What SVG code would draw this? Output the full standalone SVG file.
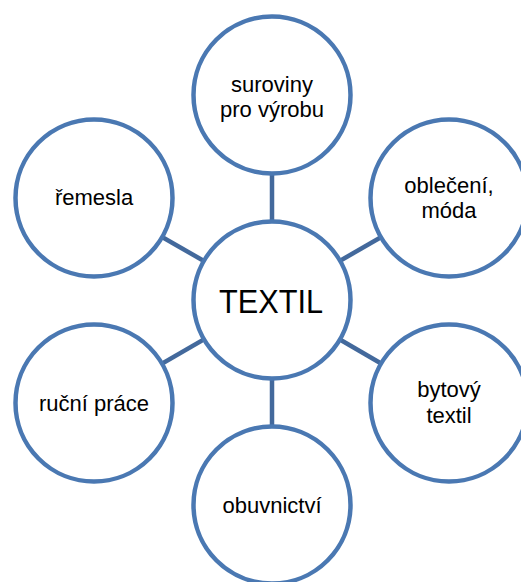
<svg xmlns="http://www.w3.org/2000/svg" width="521" height="582" viewBox="0 0 521 582">
<style>
.node circle{fill:#fff;stroke:#4A78B2;stroke-width:4.5}
.conn line{stroke:#43699C;stroke-width:4.5}
text{font-family:"Liberation Sans",Arial,sans-serif;font-size:22px;fill:#000;text-anchor:middle}
.big{font-size:33px}
</style>
<rect width="521" height="582" fill="#fff"/>
<g id="connectors" class="conn">
<line x1="272" y1="300" x2="272" y2="95"/>
<line x1="272" y1="300" x2="449" y2="198"/>
<line x1="272" y1="300" x2="449" y2="403"/>
<line x1="272" y1="300" x2="272" y2="505"/>
<line x1="272" y1="300" x2="94" y2="403"/>
<line x1="272" y1="300" x2="94" y2="198"/>
</g>
<g id="n-top" class="node"><circle cx="272" cy="95" r="78.5"/><text x="272" y="92">suroviny</text><text x="272" y="117">pro výrobu</text></g>
<g id="n-ur" class="node"><circle cx="449" cy="198" r="78.5"/><text x="449" y="193">oblečení,</text><text x="449" y="218">móda</text></g>
<g id="n-lr" class="node"><circle cx="449" cy="403" r="78.5"/><text x="449" y="397">bytový</text><text x="449" y="423">textil</text></g>
<g id="n-bot" class="node"><circle cx="272" cy="505" r="78.5"/><text x="272" y="513">obuvnictví</text></g>
<g id="n-ll" class="node"><circle cx="94" cy="403" r="78.5"/><text x="94" y="411">ruční práce</text></g>
<g id="n-ul" class="node"><circle cx="94" cy="198" r="78.5"/><text x="94" y="205">řemesla</text></g>
<g id="n-center" class="node"><circle cx="272" cy="300" r="78.5"/><text class="big" x="271" y="313" textLength="104" lengthAdjust="spacingAndGlyphs">TEXTIL</text></g>
</svg>
